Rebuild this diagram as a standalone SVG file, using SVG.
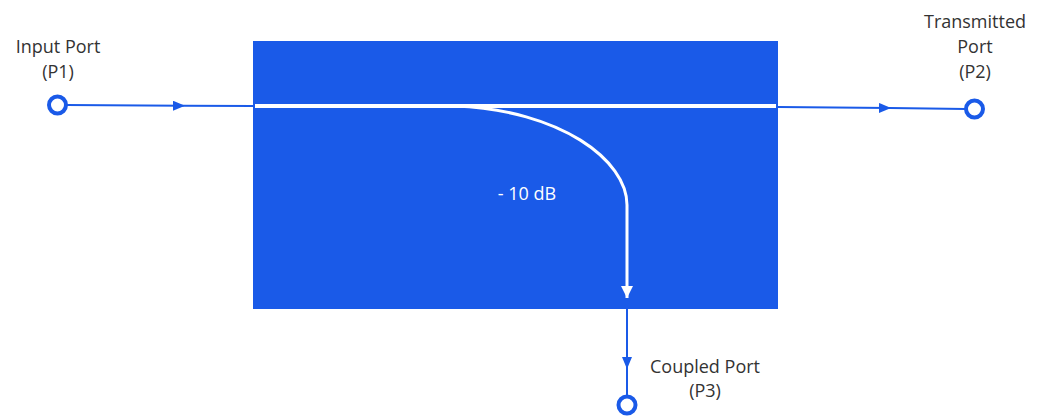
<svg xmlns="http://www.w3.org/2000/svg" width="1046" height="418" viewBox="0 0 1046 418">
<style>
.lbl{font-family:"Open Sans","Noto Sans","Liberation Sans",sans-serif;font-size:18px;fill:#333;text-anchor:middle}
.wire{stroke:#1a5ae8;stroke-width:2;fill:none}
.port{fill:#fff;stroke:#1a5ae8;stroke-width:4}
</style>
<defs>
<marker id="ab" markerWidth="12" markerHeight="10" refX="11" refY="5" orient="auto" markerUnits="userSpaceOnUse"><path d="M0,0 L12,5 L0,10 Z" fill="#1a5ae8"/></marker>
<marker id="aw" markerWidth="14" markerHeight="12" refX="12" refY="6" orient="auto" markerUnits="userSpaceOnUse"><path d="M0,0 L12,6 L0,12 Z" fill="#fff"/></marker>
</defs>
<g id="coupler">
<rect x="253" y="41" width="525" height="268" fill="#1a5ae8"/>
<line x1="255" y1="106" x2="776" y2="106" stroke="#fff" stroke-width="4"/>
<path d="M455,106 C560,110 627,160 627,205 L627,298" stroke="#fff" stroke-width="3" fill="none" marker-end="url(#aw)"/>
<text x="527" y="200" class="lbl" style="fill:#fff">- 10 dB</text>
</g>
<g id="connectors">
<path class="wire" d="M66,105 L184,105.8" marker-end="url(#ab)"/>
<line class="wire" x1="184" y1="105.8" x2="253" y2="106"/>
<path class="wire" d="M778,107 L890,108" marker-end="url(#ab)"/>
<line class="wire" x1="890" y1="108" x2="966" y2="109"/>
<path class="wire" d="M627,309 L627,368" marker-end="url(#ab)"/>
<line class="wire" x1="627" y1="368" x2="627" y2="396"/>
</g>
<g id="p1">
<circle class="port" cx="57.500" cy="105" r="8.5"/>
<text x="58" y="53" class="lbl">Input Port</text>
<text x="58" y="78" class="lbl">(P1)</text>
</g>
<g id="p2">
<circle class="port" cx="974.500" cy="109" r="8.5"/>
<text x="975" y="28" class="lbl">Transmitted</text>
<text x="975" y="53" class="lbl">Port</text>
<text x="975" y="78" class="lbl">(P2)</text>
</g>
<g id="p3">
<circle class="port" cx="627" cy="405" r="8.5"/>
<text x="705" y="373" class="lbl">Coupled Port</text>
<text x="705" y="397" class="lbl">(P3)</text>
</g>
</svg>
